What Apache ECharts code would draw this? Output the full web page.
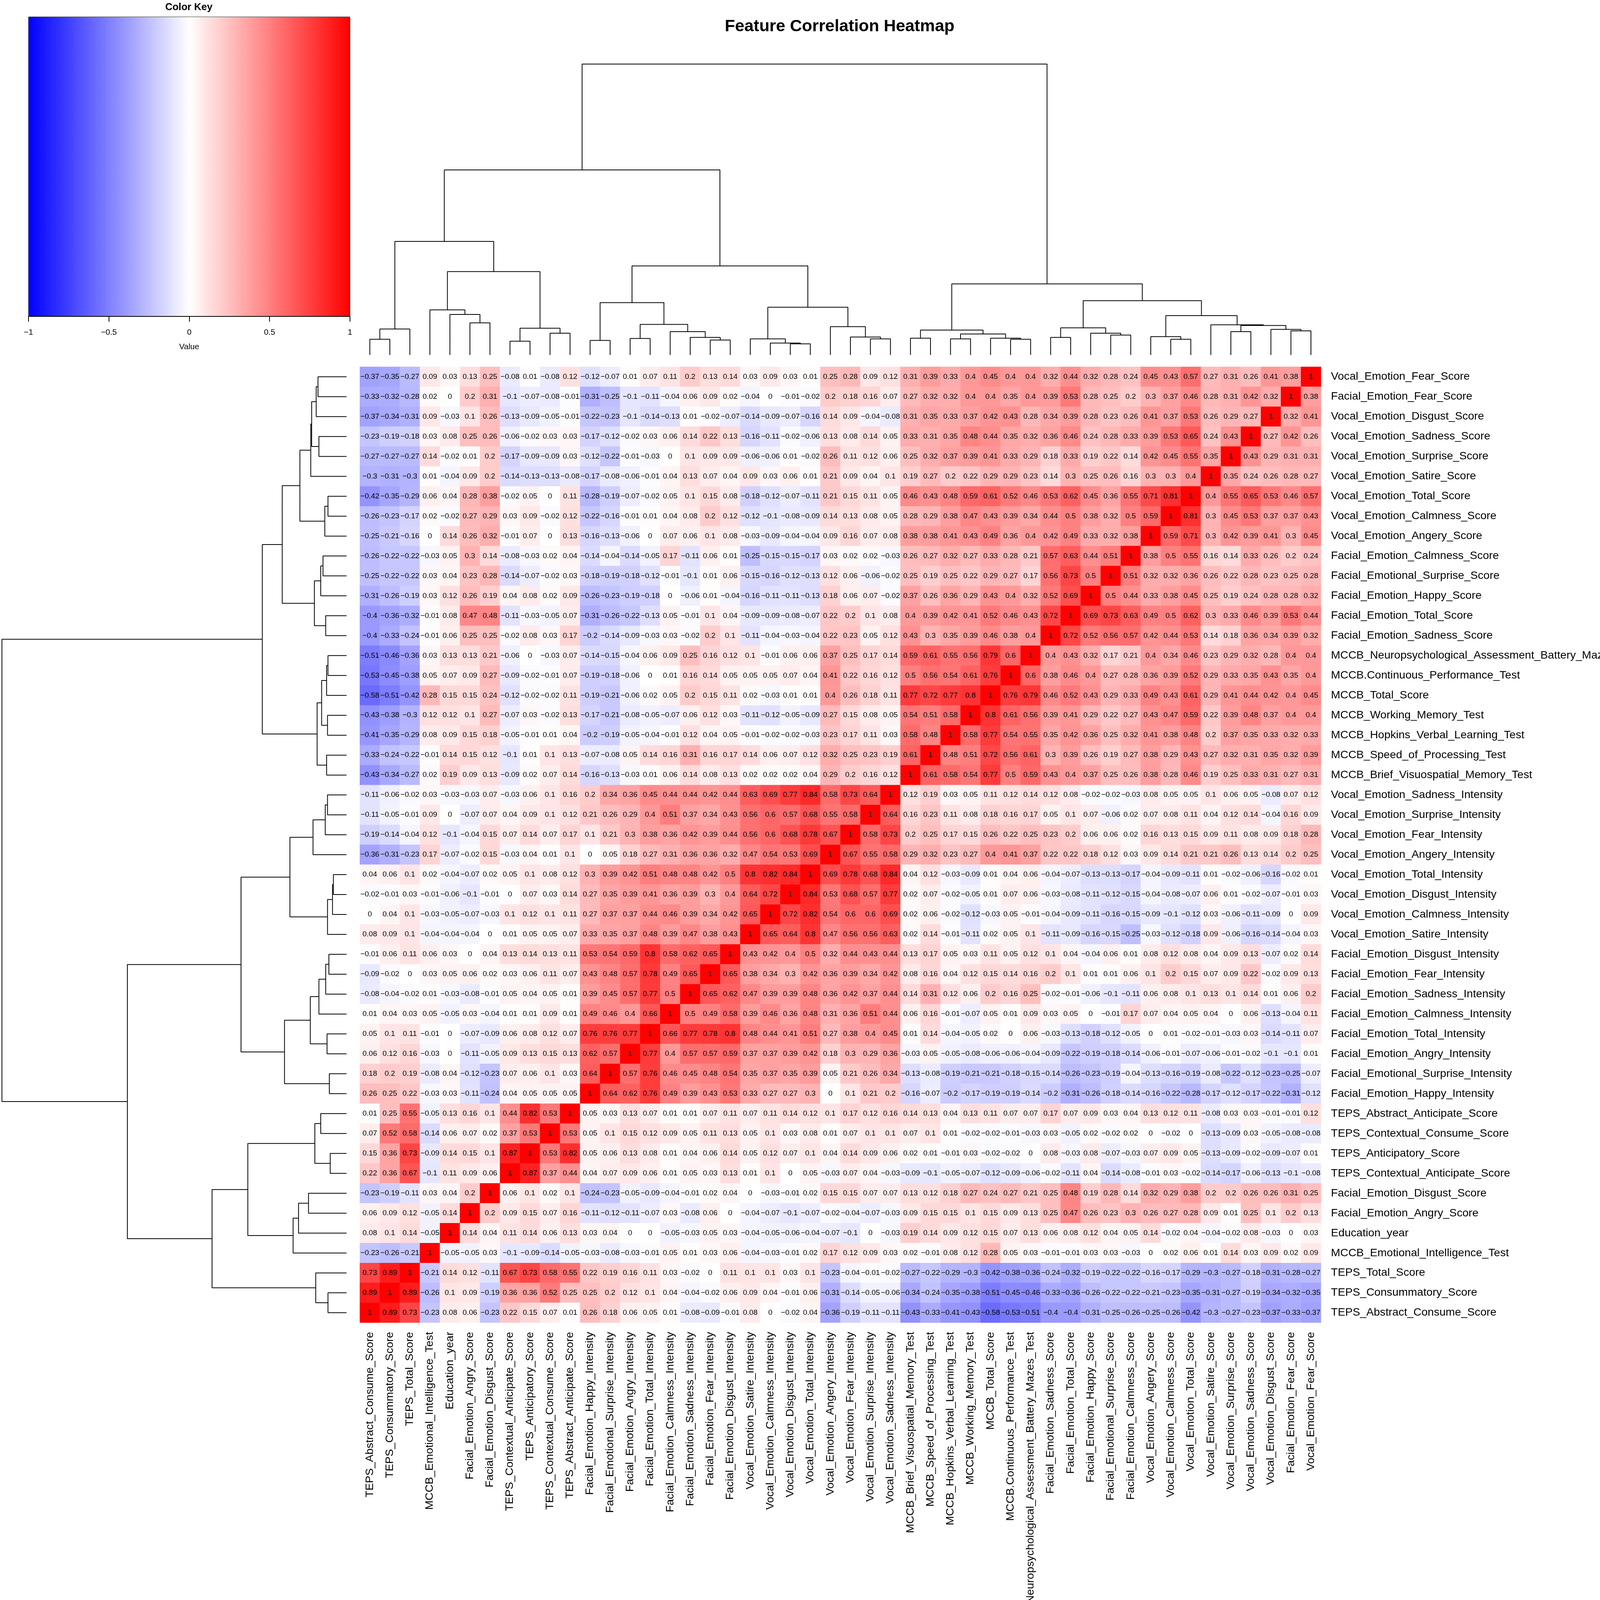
<!DOCTYPE html>
<html>
<head>
<meta charset="utf-8">
<title>Feature Correlation Heatmap</title>
<script src="https://cdn.jsdelivr.net/npm/echarts@6/dist/echarts.min.js"></script>
<style>
html, body { margin: 0; padding: 0; background: #fff; overflow: hidden; }
#chart { width: 100vw; height: 100vh; }
</style>
</head>
<body>
<div id="chart"></div>
<script>
// row labels, top to bottom. the columns use the same names in reverse order
var rowNames = [
  "Vocal_Emotion_Fear_Score", "Facial_Emotion_Fear_Score", "Vocal_Emotion_Disgust_Score",
  "Vocal_Emotion_Sadness_Score", "Vocal_Emotion_Surprise_Score", "Vocal_Emotion_Satire_Score",
  "Vocal_Emotion_Total_Score", "Vocal_Emotion_Calmness_Score", "Vocal_Emotion_Angery_Score",
  "Facial_Emotion_Calmness_Score", "Facial_Emotional_Surprise_Score", "Facial_Emotion_Happy_Score",
  "Facial_Emotion_Total_Score", "Facial_Emotion_Sadness_Score",
  "MCCB_Neuropsychological_Assessment_Battery_Mazes_Test", "MCCB.Continuous_Performance_Test",
  "MCCB_Total_Score", "MCCB_Working_Memory_Test", "MCCB_Hopkins_Verbal_Learning_Test",
  "MCCB_Speed_of_Processing_Test", "MCCB_Brief_Visuospatial_Memory_Test",
  "Vocal_Emotion_Sadness_Intensity", "Vocal_Emotion_Surprise_Intensity", "Vocal_Emotion_Fear_Intensity",
  "Vocal_Emotion_Angery_Intensity", "Vocal_Emotion_Total_Intensity", "Vocal_Emotion_Disgust_Intensity",
  "Vocal_Emotion_Calmness_Intensity", "Vocal_Emotion_Satire_Intensity",
  "Facial_Emotion_Disgust_Intensity", "Facial_Emotion_Fear_Intensity", "Facial_Emotion_Sadness_Intensity",
  "Facial_Emotion_Calmness_Intensity", "Facial_Emotion_Total_Intensity", "Facial_Emotion_Angry_Intensity",
  "Facial_Emotional_Surprise_Intensity", "Facial_Emotion_Happy_Intensity",
  "TEPS_Abstract_Anticipate_Score", "TEPS_Contextual_Consume_Score", "TEPS_Anticipatory_Score",
  "TEPS_Contextual_Anticipate_Score", "Facial_Emotion_Disgust_Score", "Facial_Emotion_Angry_Score",
  "Education_year", "MCCB_Emotional_Intelligence_Test", "TEPS_Total_Score",
  "TEPS_Consummatory_Score", "TEPS_Abstract_Consume_Score"
];
var colNames = rowNames.slice().reverse();

// the matrix is symmetric about the red diagonal, so each row stops at its "1"
var corrRows = [
  [-0.37,-0.35,-0.27,0.09,0.03,0.13,0.25,-0.08,0.01,-0.08,0.12,-0.12,-0.07,0.01,0.07,0.11,0.2,0.13,0.14,0.03,0.09,0.03,0.01,0.25,0.28,0.09,0.12,0.31,0.39,0.33,0.4,0.45,0.4,0.4,0.32,0.44,0.32,0.28,0.24,0.45,0.43,0.57,0.27,0.31,0.26,0.41,0.38,1],
  [-0.33,-0.32,-0.28,0.02,0,0.2,0.31,-0.1,-0.07,-0.08,-0.01,-0.31,-0.25,-0.1,-0.11,-0.04,0.06,0.09,0.02,-0.04,0,-0.01,-0.02,0.2,0.18,0.16,0.07,0.27,0.32,0.32,0.4,0.4,0.35,0.4,0.39,0.53,0.28,0.25,0.2,0.3,0.37,0.46,0.28,0.31,0.42,0.32,1],
  [-0.37,-0.34,-0.31,0.09,-0.03,0.1,0.26,-0.13,-0.09,-0.05,-0.01,-0.22,-0.23,-0.1,-0.14,-0.13,0.01,-0.02,-0.07,-0.14,-0.09,-0.07,-0.16,0.14,0.09,-0.04,-0.08,0.31,0.35,0.33,0.37,0.42,0.43,0.28,0.34,0.39,0.28,0.23,0.26,0.41,0.37,0.53,0.26,0.29,0.27,1],
  [-0.23,-0.19,-0.18,0.03,0.08,0.25,0.26,-0.06,-0.02,0.03,0.03,-0.17,-0.12,-0.02,0.03,0.06,0.14,0.22,0.13,-0.16,-0.11,-0.02,-0.06,0.13,0.08,0.14,0.05,0.33,0.31,0.35,0.48,0.44,0.35,0.32,0.36,0.46,0.24,0.28,0.33,0.39,0.53,0.65,0.24,0.43,1],
  [-0.27,-0.27,-0.27,0.14,-0.02,0.01,0.2,-0.17,-0.09,-0.09,0.03,-0.12,-0.22,-0.01,-0.03,0,0.1,0.09,0.09,-0.06,-0.06,0.01,-0.02,0.26,0.11,0.12,0.06,0.25,0.32,0.37,0.39,0.41,0.33,0.29,0.18,0.33,0.19,0.22,0.14,0.42,0.45,0.55,0.35,1],
  [-0.3,-0.31,-0.3,0.01,-0.04,0.09,0.2,-0.14,-0.13,-0.13,-0.08,-0.17,-0.08,-0.06,-0.01,0.04,0.13,0.07,0.04,0.09,0.03,0.06,0.01,0.21,0.09,0.04,0.1,0.19,0.27,0.2,0.22,0.29,0.29,0.23,0.14,0.3,0.25,0.26,0.16,0.3,0.3,0.4,1],
  [-0.42,-0.35,-0.29,0.06,0.04,0.28,0.38,-0.02,0.05,0,0.11,-0.28,-0.19,-0.07,-0.02,0.05,0.1,0.15,0.08,-0.18,-0.12,-0.07,-0.11,0.21,0.15,0.11,0.05,0.46,0.43,0.48,0.59,0.61,0.52,0.46,0.53,0.62,0.45,0.36,0.55,0.71,0.81,1],
  [-0.26,-0.23,-0.17,0.02,-0.02,0.27,0.29,0.03,0.09,-0.02,0.12,-0.22,-0.16,-0.01,0.01,0.04,0.08,0.2,0.12,-0.12,-0.1,-0.08,-0.09,0.14,0.13,0.08,0.05,0.28,0.29,0.38,0.47,0.43,0.39,0.34,0.44,0.5,0.38,0.32,0.5,0.59,1],
  [-0.25,-0.21,-0.16,0,0.14,0.26,0.32,-0.01,0.07,0,0.13,-0.16,-0.13,-0.06,0,0.07,0.06,0.1,0.08,-0.03,-0.09,-0.04,-0.04,0.09,0.16,0.07,0.08,0.38,0.38,0.41,0.43,0.49,0.36,0.4,0.42,0.49,0.33,0.32,0.38,1],
  [-0.26,-0.22,-0.22,-0.03,0.05,0.3,0.14,-0.08,-0.03,0.02,0.04,-0.14,-0.04,-0.14,-0.05,0.17,-0.11,0.06,0.01,-0.25,-0.15,-0.15,-0.17,0.03,0.02,0.02,-0.03,0.26,0.27,0.32,0.27,0.33,0.28,0.21,0.57,0.63,0.44,0.51,1],
  [-0.25,-0.22,-0.22,0.03,0.04,0.23,0.28,-0.14,-0.07,-0.02,0.03,-0.18,-0.19,-0.18,-0.12,-0.01,-0.1,0.01,0.06,-0.15,-0.16,-0.12,-0.13,0.12,0.06,-0.06,-0.02,0.25,0.19,0.25,0.22,0.29,0.27,0.17,0.56,0.73,0.5,1],
  [-0.31,-0.26,-0.19,0.03,0.12,0.26,0.19,0.04,0.08,0.02,0.09,-0.26,-0.23,-0.19,-0.18,0,-0.06,0.01,-0.04,-0.16,-0.11,-0.11,-0.13,0.18,0.06,0.07,-0.02,0.37,0.26,0.36,0.29,0.43,0.4,0.32,0.52,0.69,1],
  [-0.4,-0.36,-0.32,-0.01,0.08,0.47,0.48,-0.11,-0.03,-0.05,0.07,-0.31,-0.26,-0.22,-0.13,0.05,-0.01,0.1,0.04,-0.09,-0.09,-0.08,-0.07,0.22,0.2,0.1,0.08,0.4,0.39,0.42,0.41,0.52,0.46,0.43,0.72,1],
  [-0.4,-0.33,-0.24,-0.01,0.06,0.25,0.25,-0.02,0.08,0.03,0.17,-0.2,-0.14,-0.09,-0.03,0.03,-0.02,0.2,0.1,-0.11,-0.04,-0.03,-0.04,0.22,0.23,0.05,0.12,0.43,0.3,0.35,0.39,0.46,0.38,0.4,1],
  [-0.51,-0.46,-0.36,0.03,0.13,0.13,0.21,-0.06,0,-0.03,0.07,-0.14,-0.15,-0.04,0.06,0.09,0.25,0.16,0.12,0.1,-0.01,0.06,0.06,0.37,0.25,0.17,0.14,0.59,0.61,0.55,0.56,0.79,0.6,1],
  [-0.53,-0.45,-0.38,0.05,0.07,0.09,0.27,-0.09,-0.02,-0.01,0.07,-0.19,-0.18,-0.06,0,0.01,0.16,0.14,0.05,0.05,0.05,0.07,0.04,0.41,0.22,0.16,0.12,0.5,0.56,0.54,0.61,0.76,1],
  [-0.58,-0.51,-0.42,0.28,0.15,0.15,0.24,-0.12,-0.02,-0.02,0.11,-0.19,-0.21,-0.06,0.02,0.05,0.2,0.15,0.11,0.02,-0.03,0.01,0.01,0.4,0.26,0.18,0.11,0.77,0.72,0.77,0.8,1],
  [-0.43,-0.38,-0.3,0.12,0.12,0.1,0.27,-0.07,0.03,-0.02,0.13,-0.17,-0.21,-0.08,-0.05,-0.07,0.06,0.12,0.03,-0.11,-0.12,-0.05,-0.09,0.27,0.15,0.08,0.05,0.54,0.51,0.58,1],
  [-0.41,-0.35,-0.29,0.08,0.09,0.15,0.18,-0.05,-0.01,0.01,0.04,-0.2,-0.19,-0.05,-0.04,-0.01,0.12,0.04,0.05,-0.01,-0.02,-0.02,-0.03,0.23,0.17,0.11,0.03,0.58,0.48,1],
  [-0.33,-0.24,-0.22,-0.01,0.14,0.15,0.12,-0.1,0.01,0.1,0.13,-0.07,-0.08,0.05,0.14,0.16,0.31,0.16,0.17,0.14,0.06,0.07,0.12,0.32,0.25,0.23,0.19,0.61,1],
  [-0.43,-0.34,-0.27,0.02,0.19,0.09,0.13,-0.09,0.02,0.07,0.14,-0.16,-0.13,-0.03,0.01,0.06,0.14,0.08,0.13,0.02,0.02,0.02,0.04,0.29,0.2,0.16,0.12,1],
  [-0.11,-0.06,-0.02,0.03,-0.03,-0.03,0.07,-0.03,0.06,0.1,0.16,0.2,0.34,0.36,0.45,0.44,0.44,0.42,0.44,0.63,0.69,0.77,0.84,0.58,0.73,0.64,1],
  [-0.11,-0.05,-0.01,0.09,0,-0.07,0.07,0.04,0.09,0.1,0.12,0.21,0.26,0.29,0.4,0.51,0.37,0.34,0.43,0.56,0.6,0.57,0.68,0.55,0.58,1],
  [-0.19,-0.14,-0.04,0.12,-0.1,-0.04,0.15,0.07,0.14,0.07,0.17,0.1,0.21,0.3,0.38,0.36,0.42,0.39,0.44,0.56,0.6,0.68,0.78,0.67,1],
  [-0.36,-0.31,-0.23,0.17,-0.07,-0.02,0.15,-0.03,0.04,0.01,0.1,0,0.05,0.18,0.27,0.31,0.36,0.36,0.32,0.47,0.54,0.53,0.69,1],
  [0.04,0.06,0.1,0.02,-0.04,-0.07,0.02,0.05,0.1,0.08,0.12,0.3,0.39,0.42,0.51,0.48,0.48,0.42,0.5,0.8,0.82,0.84,1],
  [-0.02,-0.01,0.03,-0.01,-0.06,-0.1,-0.01,0,0.07,0.03,0.14,0.27,0.35,0.39,0.41,0.36,0.39,0.3,0.4,0.64,0.72,1],
  [0,0.04,0.1,-0.03,-0.05,-0.07,-0.03,0.1,0.12,0.1,0.11,0.27,0.37,0.37,0.44,0.46,0.39,0.34,0.42,0.65,1],
  [0.08,0.09,0.1,-0.04,-0.04,-0.04,0,0.01,0.05,0.05,0.07,0.33,0.35,0.37,0.48,0.39,0.47,0.38,0.43,1],
  [-0.01,0.06,0.11,0.06,0.03,0,0.04,0.13,0.14,0.13,0.11,0.53,0.54,0.59,0.8,0.58,0.62,0.65,1],
  [-0.09,-0.02,0,0.03,0.05,0.06,0.02,0.03,0.06,0.11,0.07,0.43,0.48,0.57,0.78,0.49,0.65,1],
  [-0.08,-0.04,-0.02,0.01,-0.03,-0.08,-0.01,0.05,0.04,0.05,0.01,0.39,0.45,0.57,0.77,0.5,1],
  [0.01,0.04,0.03,0.05,-0.05,0.03,-0.04,0.01,0.01,0.09,0.01,0.49,0.46,0.4,0.66,1],
  [0.05,0.1,0.11,-0.01,0,-0.07,-0.09,0.06,0.08,0.12,0.07,0.76,0.76,0.77,1],
  [0.06,0.12,0.16,-0.03,0,-0.11,-0.05,0.09,0.13,0.15,0.13,0.62,0.57,1],
  [0.18,0.2,0.19,-0.08,0.04,-0.12,-0.23,0.07,0.06,0.1,0.03,0.64,1],
  [0.26,0.25,0.22,-0.03,0.03,-0.11,-0.24,0.04,0.05,0.05,0.05,1],
  [0.01,0.25,0.55,-0.05,0.13,0.16,0.1,0.44,0.82,0.53,1],
  [0.07,0.52,0.58,-0.14,0.06,0.07,0.02,0.37,0.53,1],
  [0.15,0.36,0.73,-0.09,0.14,0.15,0.1,0.87,1],
  [0.22,0.36,0.67,-0.1,0.11,0.09,0.06,1],
  [-0.23,-0.19,-0.11,0.03,0.04,0.2,1],
  [0.06,0.09,0.12,-0.05,0.14,1],
  [0.08,0.1,0.14,-0.05,1],
  [-0.23,-0.26,-0.21,1],
  [0.73,0.89,1],
  [0.89,1],
  [1]
];

// dendrogram, same tree on top and on the left: [height, left, right], a plain number is a column
var leftBranch = [2.97,
  [0.68, [0.41, 0, 1], 2],
  [2.18,
    [1.18, 3, [1.06, 4, [0.84, 5, 6]]],
    [0.70, [0.36, 7, 8], [0.57, 9, 10]]]];
var middleBranch = [2.33,
  [1.37, [0.38, 11, 12], [0.80, [0.43, 13, 14], [0.61, 15, [0.46, 16, [0.39, 17, 18]]]]],
  [1.25,
    [0.42, 19, [0.31, 20, [0.29, 21, 22]]],
    [0.74, 23, [0.47, 24, [0.42, 25, 26]]]]];
var rightBranch = [1.86,
  [0.65, [0.44, 27, 28], [0.55, [0.42, 29, 30], [0.44, 31, [0.41, 32, 33]]]],
  [1.42,
    [0.71, [0.46, 34, 35], [0.57, 36, [0.52, 37, 38]]],
    [1.03,
      [0.48, 39, [0.41, 40, 41]],
      [0.79, 42, [0.77, [0.61, 43, 44], [0.67, 45, [0.63, 46, 47]]]]]]];
var treeRoot = [7.61, [4.84, leftBranch, middleBranch], rightBranch];

var heatData = [];
corrRows.forEach(function(r, i) {
  for (var c = 0; c < 48; c++) {
    var v = c < r.length ? r[c] : corrRows[47 - c][47 - i];
    heatData.push([c, i, v]);
  }
});

// walk the tree and collect the elbows as [col position, height], null breaks the line
var treePoints = [];
function walk(node) {
  if (typeof node === "number") return { pos: node + 0.5, h: 0 };
  var a = walk(node[1]), b = walk(node[2]);
  treePoints.push([a.pos, a.h], [a.pos, node[0]], [b.pos, node[0]], [b.pos, b.h], [null, null]);
  return { pos: (a.pos + b.pos) / 2, h: node[0] };
}
walk(treeRoot);

function minusText(v) {
  return String(v).replace("-", "\u2212");
}

var FONT = "Liberation Sans";
var el = document.getElementById("chart");
var chart = echarts.init(el, null, { renderer: "canvas" });

// the window can come out smaller than the 4160x4183 layout, so scale everything to what we got
var W = chart.getWidth(), H = chart.getHeight();
function X(v) { return v * W / 4160; }
function Y(v) { return v * H / 4183; }
function F(v) { return v * W / 4160; }

var hiddenAxis = { type: "value", show: false };
var treeLine = {
  type: "line", showSymbol: false, silent: true, clip: false, animation: false,
  lineStyle: { color: "#000", width: 2 }
};

chart.setOption({
  backgroundColor: "#fff",
  animation: false,
  title: {
    text: "Feature Correlation Heatmap", left: X(2178), top: Y(43), textAlign: "center",
    textStyle: { fontFamily: FONT, fontSize: F(43.5), fontWeight: "bold", color: "#000" }
  },
  graphic: [{
    type: "text", x: X(491), y: Y(19),
    style: { text: "Color Key", align: "center", verticalAlign: "middle", fontFamily: FONT, fontSize: F(26), fontWeight: "bold", fill: "#000" }
  }],
  grid: [
    { left: X(935.5), top: Y(959), width: X(2499), height: Y(2499), outerBoundsMode: "none" },
    { left: X(935.5), top: Y(167.5), width: X(2499), height: Y(760.5), outerBoundsMode: "none" },
    { left: X(5), top: Y(959), width: X(896), height: Y(2499), outerBoundsMode: "none" },
    { left: X(74), top: Y(44), width: X(836), height: Y(783), outerBoundsMode: "none", show: true, borderColor: "#333", borderWidth: 1, backgroundColor: "transparent", z: 10 }
  ],
  xAxis: [
    {
      type: "category", gridIndex: 0, data: colNames, position: "bottom",
      axisLine: { show: false }, axisTick: { show: false }, splitLine: { show: false },
      axisLabel: { interval: 0, rotate: 90, margin: Y(24), fontFamily: FONT, fontSize: F(29), color: "#000" }
    },
    Object.assign({}, hiddenAxis, { gridIndex: 1, min: 0, max: 48 }),
    Object.assign({}, hiddenAxis, { gridIndex: 2, min: 0, max: 7.61, inverse: true }),
    {
      type: "value", gridIndex: 3, min: -1, max: 1, interval: 0.5, position: "bottom", z: 10,
      name: "Value", nameLocation: "middle", nameGap: Y(69),
      nameTextStyle: { fontFamily: FONT, fontSize: F(21), color: "#000" },
      splitLine: { show: false },
      axisLine: { show: true, lineStyle: { color: "#000", width: 2 } },
      axisTick: { show: true, length: Y(14), lineStyle: { color: "#000", width: 2 } },
      axisLabel: {
        margin: Y(32), fontFamily: FONT, fontSize: F(21), color: "#000",
        showMinLabel: true, showMaxLabel: true, formatter: minusText
      }
    }
  ],
  yAxis: [
    {
      type: "category", gridIndex: 0, data: rowNames, inverse: true, position: "right",
      axisLine: { show: false }, axisTick: { show: false }, splitLine: { show: false },
      axisLabel: { interval: 0, margin: X(26), fontFamily: FONT, fontSize: F(29), color: "#000" }
    },
    Object.assign({}, hiddenAxis, { gridIndex: 1, min: 0, max: 7.61 }),
    Object.assign({}, hiddenAxis, { gridIndex: 2, min: 0, max: 48, inverse: true }),
    Object.assign({}, hiddenAxis, { gridIndex: 3, min: 0, max: 1 })
  ],
  visualMap: {
    type: "continuous", seriesIndex: 0, min: -1, max: 1, orient: "horizontal",
    left: X(74), top: Y(44), padding: 0, itemWidth: Y(783), itemHeight: X(836), text: null,
    calculable: false, hoverLink: false, z: 1,
    inRange: { color: ["#0000FF", "#FFFFFF", "#FF0000"] }
  },
  series: [
    {
      type: "heatmap", xAxisIndex: 0, yAxisIndex: 0, data: heatData, progressive: 0, silent: true,
      label: {
        show: true, fontFamily: FONT, fontSize: F(19.5), color: "#000",
        formatter: function(p) { return minusText(p.value[2]); }
      },
      itemStyle: { borderWidth: 0 }
    },
    Object.assign({}, treeLine, { xAxisIndex: 1, yAxisIndex: 1, data: treePoints }),
    Object.assign({}, treeLine, {
      xAxisIndex: 2, yAxisIndex: 2,
      data: treePoints.map(function(p) { return p[0] === null ? p : [p[1], 48 - p[0]]; })
    })
  ]
});
</script>
</body>
</html>
